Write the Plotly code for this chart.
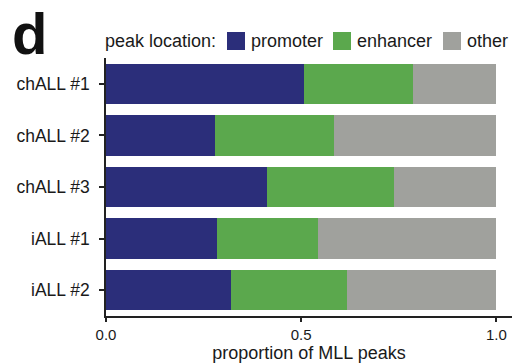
import plotly.graph_objects as go

# Proportion of MLL peaks by genomic location for each sample
samples = ["chALL #1", "chALL #2", "chALL #3", "iALL #1", "iALL #2"]
promoter = [0.506, 0.280, 0.412, 0.285, 0.319]
enhancer = [0.280, 0.304, 0.326, 0.257, 0.298]
other = [0.214, 0.416, 0.262, 0.458, 0.383]

categories = ["promoter", "enhancer", "other"]
colors = ["#2b2e7a", "#5ba84d", "#a0a19d"]
x_ticks = [0.0, 0.5, 1.0]
x_ticktext = ["0.0", "0.5", "1.0"]

FONT = "Liberation Sans, Arial, Helvetica, sans-serif"

W, H = 514, 364
L, R, T, B = 106, 2, 58, 48

fig = go.Figure()
for name, vals, col in zip(categories, [promoter, enhancer, other], colors):
    fig.add_trace(go.Bar(
        y=samples, x=vals, name=name, orientation="h",
        marker=dict(color=col, line=dict(width=0)),
        width=0.78, showlegend=False,
    ))

fig.update_layout(
    width=W, height=H,
    margin=dict(l=L, r=R, t=T, b=B, pad=0),
    barmode="stack",
    plot_bgcolor="white", paper_bgcolor="white",
    font=dict(family=FONT, size=16, color="#1a1a1a"),
)

fig.update_xaxes(
    range=[0, 1.04], tickvals=x_ticks, ticktext=x_ticktext,
    showgrid=False, zeroline=False,
    showline=True, linecolor="#222", linewidth=1.5,
    ticks="outside", ticklen=4, tickwidth=1.5, tickcolor="#222",
    tickfont=dict(size=15),
    title=dict(text="proportion of MLL peaks", font=dict(size=18), standoff=1),
)
fig.update_yaxes(
    categoryorder="array", categoryarray=samples,
    range=[4.5, -0.5],
    showgrid=False, zeroline=False,
    showline=True, linecolor="#222", linewidth=1.5,
    ticks="outside", ticklen=5, tickwidth=1.5, tickcolor="#222",
    tickfont=dict(size=17.5), ticklabelstandoff=6,
)

# Legend row drawn above the plot area
plot_h = H - T - B
plot_w = W - L - R


def px_x(p):
    return (p - L) / plot_w


def px_y(q):
    return (H - B - q) / plot_h


legend_y = 41
fig.add_annotation(text="peak location:", x=px_x(103), y=px_y(legend_y),
                   xref="paper", yref="paper", xanchor="left", yanchor="middle",
                   showarrow=False, font=dict(size=18))
swatch_x = [227, 333, 443]
label_x = [249, 355, 465]
for sx, lx, name, col in zip(swatch_x, label_x, categories, colors):
    fig.add_shape(type="rect", xref="paper", yref="paper",
                  x0=px_x(sx), x1=px_x(sx + 18),
                  y0=px_y(legend_y + 9), y1=px_y(legend_y - 9),
                  fillcolor=col, line=dict(width=0))
    fig.add_annotation(text=name, x=px_x(lx), y=px_y(legend_y),
                       xref="paper", yref="paper", xanchor="left", yanchor="middle",
                       showarrow=False, font=dict(size=18))

# Panel letter, kept fully inside the top edge
fig.add_annotation(text="<b>d</b>", x=px_x(29), y=px_y(0),
                   xref="paper", yref="paper", xanchor="center", yanchor="top",
                   showarrow=False, borderpad=0, font=dict(size=58, color="#111"))

fig.write_html("out.html")
